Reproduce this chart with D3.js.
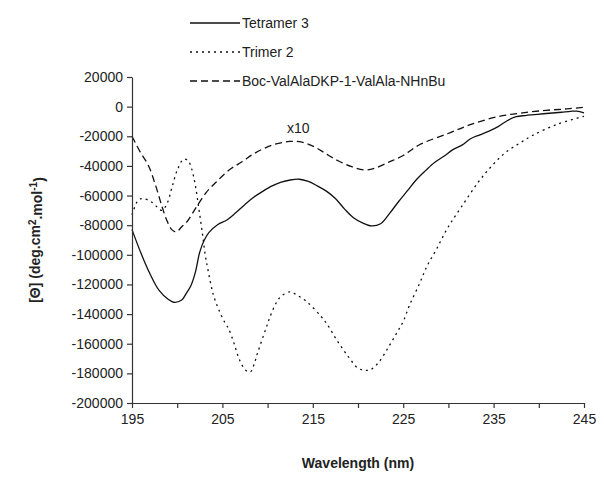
<!DOCTYPE html>
<html>
  <head>
    <meta charset="utf-8">
    <title>CD spectra</title>
    <script src="https://d3js.org/d3.v7.min.js"></script>
    <style>
      body { margin: 0; background: #fff; }
      text { font-family: "Liberation Sans", Arial, sans-serif; fill: #222; }
    </style>
  </head>
  <body>
    <script>

      //Width and height
      var w = 604;
      var h = 487;
      var margin = {left: 132, right: 20, top: 77, bottom: 84};

      //Wavelengths (nm) and molar ellipticity
      var tetramerNm = [195, 196, 197, 198, 199, 199.6, 200.5, 201, 201.5, 202, 202.5, 203, 203.5,
                        204.5, 205.5, 206.5, 207.5, 208.5, 209.5, 210.5, 211.5, 212.5, 213.5, 214.5,
                        215.5, 216.5, 217.5, 218.5, 219.5, 220.5, 221.5, 222.5, 223.5, 224.5, 225.5,
                        226.5, 227.5, 228.5, 229.5, 230.5, 231.5, 232.5, 233.5, 234.5, 235.5, 236.5,
                        237.5, 238.5, 239.5, 240.5, 241.5, 242.5, 243.5, 244.2, 245];
      var tetramerVal = [-83000, -99000, -113000, -124000, -130000, -132000, -130500, -126000, -121000,
                         -112000, -98000, -90000, -85000, -79500, -76500, -71500, -66000, -61000,
                         -57000, -53500, -51000, -49500, -49000, -50500, -53500, -57000, -62000,
                         -69000, -75000, -78500, -80500, -79000, -72000, -64000, -56500, -49000,
                         -43000, -37500, -33500, -29000, -26000, -21500, -19000, -16500, -13500,
                         -9500, -6800, -6000, -5400, -4800, -4300, -3800, -3200, -3000, -4200];

      var trimerNm = [195, 195.7, 196.2, 197.2, 198.3, 198.9, 199.4, 200, 200.7, 201.2, 201.6, 202,
                      202.4, 202.8, 203.1, 203.4, 204, 204.7, 205.3, 205.7, 206.3, 206.9, 207.6,
                      208.1, 208.5, 208.9, 209.8, 210.2, 210.9, 211.5, 212.5, 213.2, 214.4, 215.9,
                      216.6, 217.7, 218.9, 220, 220.8, 221.4, 222.3, 223.4, 224.4, 225, 225.7,
                      226.8, 227.6, 228.7, 229.9, 231.4, 233.3, 234.8, 236.3, 237.8, 239.3, 242, 245];
      var trimerVal = [-73000, -63000, -62000, -64500, -70000, -65000, -55000, -43000, -35500, -36500,
                       -42000, -53000, -69000, -86000, -100000, -110000, -127000, -138500, -146000,
                       -150000, -160000, -171000, -178000, -179000, -174000, -166000, -150000,
                       -143000, -133000, -128000, -125000, -127000, -132000, -141500, -147000,
                       -158000, -168500, -176500, -178000, -177500, -172500, -162000, -151500,
                       -145000, -134000, -119500, -108000, -96000, -82000, -68000, -51000, -40000,
                       -31000, -25000, -19500, -12000, -6500];

      var bocNm = [195, 195.9, 196.8, 197.6, 198.3, 198.8, 199.4, 199.9, 200.5, 201.1, 202.1, 203.2,
                   204.3, 205.7, 207.2, 208.7, 210.5, 212.4, 213.8, 215.3, 216.5, 217.8, 219.3, 220.8,
                   221.9, 223.4, 225, 226.8, 229.9, 232.5, 235.5, 238.2, 240.8, 243.1, 245];
      var bocVal = [-20000, -30500, -39500, -53000, -67000, -76000, -83000, -84500, -81000, -77500,
                    -68000, -58000, -51000, -43000, -37000, -31000, -26000, -23500, -24000, -27500,
                    -32000, -36500, -40500, -42700, -41500, -37500, -33000, -25700, -18300, -12000,
                    -6700, -4200, -2500, -1500, -400];

      var seriesNames = ["Tetramer 3", "Trimer 2", "Boc-ValAlaDKP-1-ValAla-NHnBu"];
      var seriesDash = ["none", "2,4", "7,4"];

      //Tick values
      var xTicks = d3.range(195, 246, 5);
      var yTicks = d3.range(20000, -200001, -20000);

      var series = [
        {name: seriesNames[0], dash: seriesDash[0], values: d3.zip(tetramerNm, tetramerVal)},
        {name: seriesNames[1], dash: seriesDash[1], values: d3.zip(trimerNm, trimerVal)},
        {name: seriesNames[2], dash: seriesDash[2], values: d3.zip(bocNm, bocVal)}
      ];

      //Create scales
      var xScale = d3.scaleLinear()
                     .domain([195, 245])
                     .range([margin.left, w - margin.right]);

      var yScale = d3.scaleLinear()
                     .domain([-200000, 20000])
                     .range([h - margin.bottom, margin.top]);

      //Create SVG element
      var svg = d3.select("body")
                  .append("svg")
                  .attr("width", w)
                  .attr("height", h);

      //Lines
      var line = d3.line()
                   .x(function(d) { return xScale(d[0]); })
                   .y(function(d) { return yScale(d[1]); })
                   .curve(d3.curveCatmullRom.alpha(0.5));

      svg.selectAll("path.series")
         .data(series)
         .enter()
         .append("path")
         .attr("class", "series")
         .attr("d", function(d) { return line(d.values); })
         .attr("fill", "none")
         .attr("stroke", "#111")
         .attr("stroke-width", 1.3)
         .attr("stroke-dasharray", function(d) { return d.dash; });

      //Axes
      var yAxis = d3.axisLeft(yScale)
                    .tickValues(yTicks)
                    .tickSize(5)
                    .tickSizeOuter(0)
                    .tickPadding(4)
                    .tickFormat(function(d) { return String(d); });

      var xAxis = d3.axisBottom(xScale)
                    .tickValues(xTicks)
                    .tickSize(5)
                    .tickSizeOuter(0)
                    .tickPadding(6)
                    .tickFormat(function(d) { return d % 10 === 5 ? d : ""; });

      var gy = svg.append("g")
                  .attr("transform", "translate(" + margin.left + ",0)")
                  .call(yAxis);

      var gx = svg.append("g")
                  .attr("transform", "translate(0," + (h - margin.bottom) + ")")
                  .call(xAxis);

      [gx, gy].forEach(function(g) {
        g.selectAll("text")
         .attr("font-family", "Liberation Sans, Arial, sans-serif")
         .attr("font-size", "14px")
         .attr("fill", "#222");
        g.selectAll("path, line").attr("stroke", "#333").attr("stroke-width", 1.2);
      });

      //Axis titles
      svg.append("text")
         .attr("x", xScale(220))
         .attr("y", h - 19)
         .attr("text-anchor", "middle")
         .attr("font-size", "14px")
         .attr("font-weight", "bold")
         .text("Wavelength (nm)");

      var yt = svg.append("text")
                  .attr("transform", "translate(40," + yScale(-90000) + ") rotate(-90)")
                  .attr("text-anchor", "middle")
                  .attr("font-size", "14px")
                  .attr("font-weight", "bold");
      yt.append("tspan").text("[Θ] (deg.cm");
      yt.append("tspan").attr("dy", "-0.45em").attr("font-size", "10px").text("2");
      yt.append("tspan").attr("dy", "0.45em").text(".mol");
      yt.append("tspan").attr("dy", "-0.45em").attr("font-size", "10px").text("-1");
      yt.append("tspan").attr("dy", "0.45em").text(")");

      //x10 note
      svg.append("text")
         .attr("x", xScale(213.4))
         .attr("y", yScale(-18000))
         .attr("text-anchor", "middle")
         .attr("font-size", "14px")
         .text("x10");

      //Legend
      var legend = svg.selectAll("g.legend")
                      .data(series)
                      .enter()
                      .append("g")
                      .attr("class", "legend")
                      .attr("transform", function(d, i) {
                        return "translate(190," + (23 + i * 29) + ")";
                      });

      legend.append("line")
            .attr("x1", 0)
            .attr("x2", 50)
            .attr("stroke", "#111")
            .attr("stroke-width", 1.3)
            .attr("stroke-dasharray", function(d) { return d.dash; });

      legend.append("text")
            .attr("x", 52)
            .attr("dy", "0.35em")
            .attr("font-size", "14px")
            .text(function(d) { return d.name; });

    </script>
  </body>
</html>
